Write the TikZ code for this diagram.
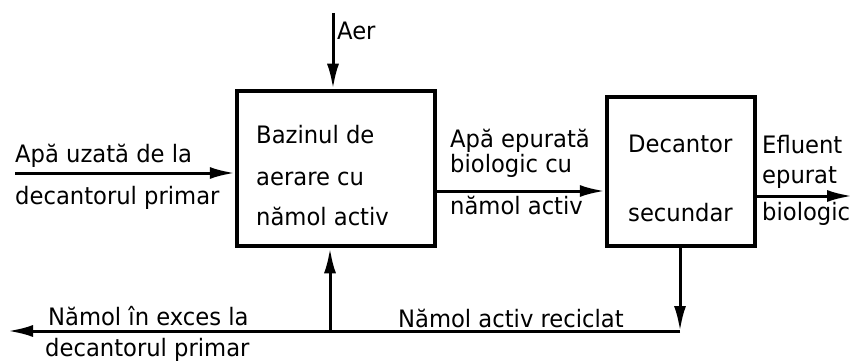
\documentclass[tikz,border=0pt]{standalone}
\usepackage{fontspec}
\setmainfont{DejaVu Sans Condensed}[FakeStretch=1.05]
\usetikzlibrary{arrows.meta}
\begin{document}
\begin{tikzpicture}[x=1pt,y=-1pt,
  box/.style={draw,line width=4.5pt,rectangle,inner sep=0pt},
  flow/.style={line width=3pt,-{Latex[length=25pt,width=12pt]}},
  plain/.style={line width=3pt},
  lbl/.style={anchor=base west,inner sep=0pt,font=\fontsize{24}{26}\selectfont}]
\useasboundingbox (0,0) rectangle (852,361);
% boxes
\node[box,minimum width=198pt,minimum height=155pt] (b1) at (336,168.5) {};
\node[box,minimum width=148pt,minimum height=149pt] (b2) at (681,171.5) {};
% box texts
\node[lbl] (t1a) at (256,143) {Bazinul de};
\node[lbl] (t1b) at (256,185) {aerare cu};
\node[lbl] (t1c) at (256,225) {nămol activ};
\node[lbl] (t2a) at (628,152) {Decantor};
\node[lbl] (t2b) at (628,221) {secundar};
% coordinates
\coordinate (aer) at (333,13);
\coordinate (in) at (15,173);
\coordinate (out) at (852,196);
\coordinate (rc) at (680,331);
\coordinate (jn) at (330,331);
\coordinate (ex) at (8,331);
% connectors
\draw[flow] (aer) -- (aer |- b1.north);
\draw[flow] (in) -- (in -| b1.west);
\draw[flow] (b1.east |- 0,191) -- (b2.west |- 0,191);
\draw[flow] (b2.east |- out) -- (out);
\draw[flow] (rc |- b2.south) -- (rc);
\draw[plain] (rc) -- (jn);
\draw[flow] (jn) -- (jn |- b1.south);
\draw[flow] (jn) -- (ex);
% labels
\node[lbl] (la) at (337,40) {Aer};
\node[lbl] (li1) at (15,162) {Apă uzată de la};
\node[lbl] (li2) at (15,204) {decantorul primar};
\node[lbl] (lm1) at (450,147) {Apă epurată};
\node[lbl] (lm2) at (450,172) {biologic cu};
\node[lbl] (lm3) at (450,214) {nămol activ};
\node[lbl] (lo1) at (762,153) {Efluent};
\node[lbl] (lo2) at (762,183) {epurat};
\node[lbl] (lo3) at (762,220) {biologic};
\node[lbl] (le1) at (48,325) {Nămol în exces la};
\node[lbl] (le2) at (45,356) {decantorul primar};
\node[lbl] (lr) at (398,327) {Nămol activ reciclat};
\end{tikzpicture}
\end{document}
